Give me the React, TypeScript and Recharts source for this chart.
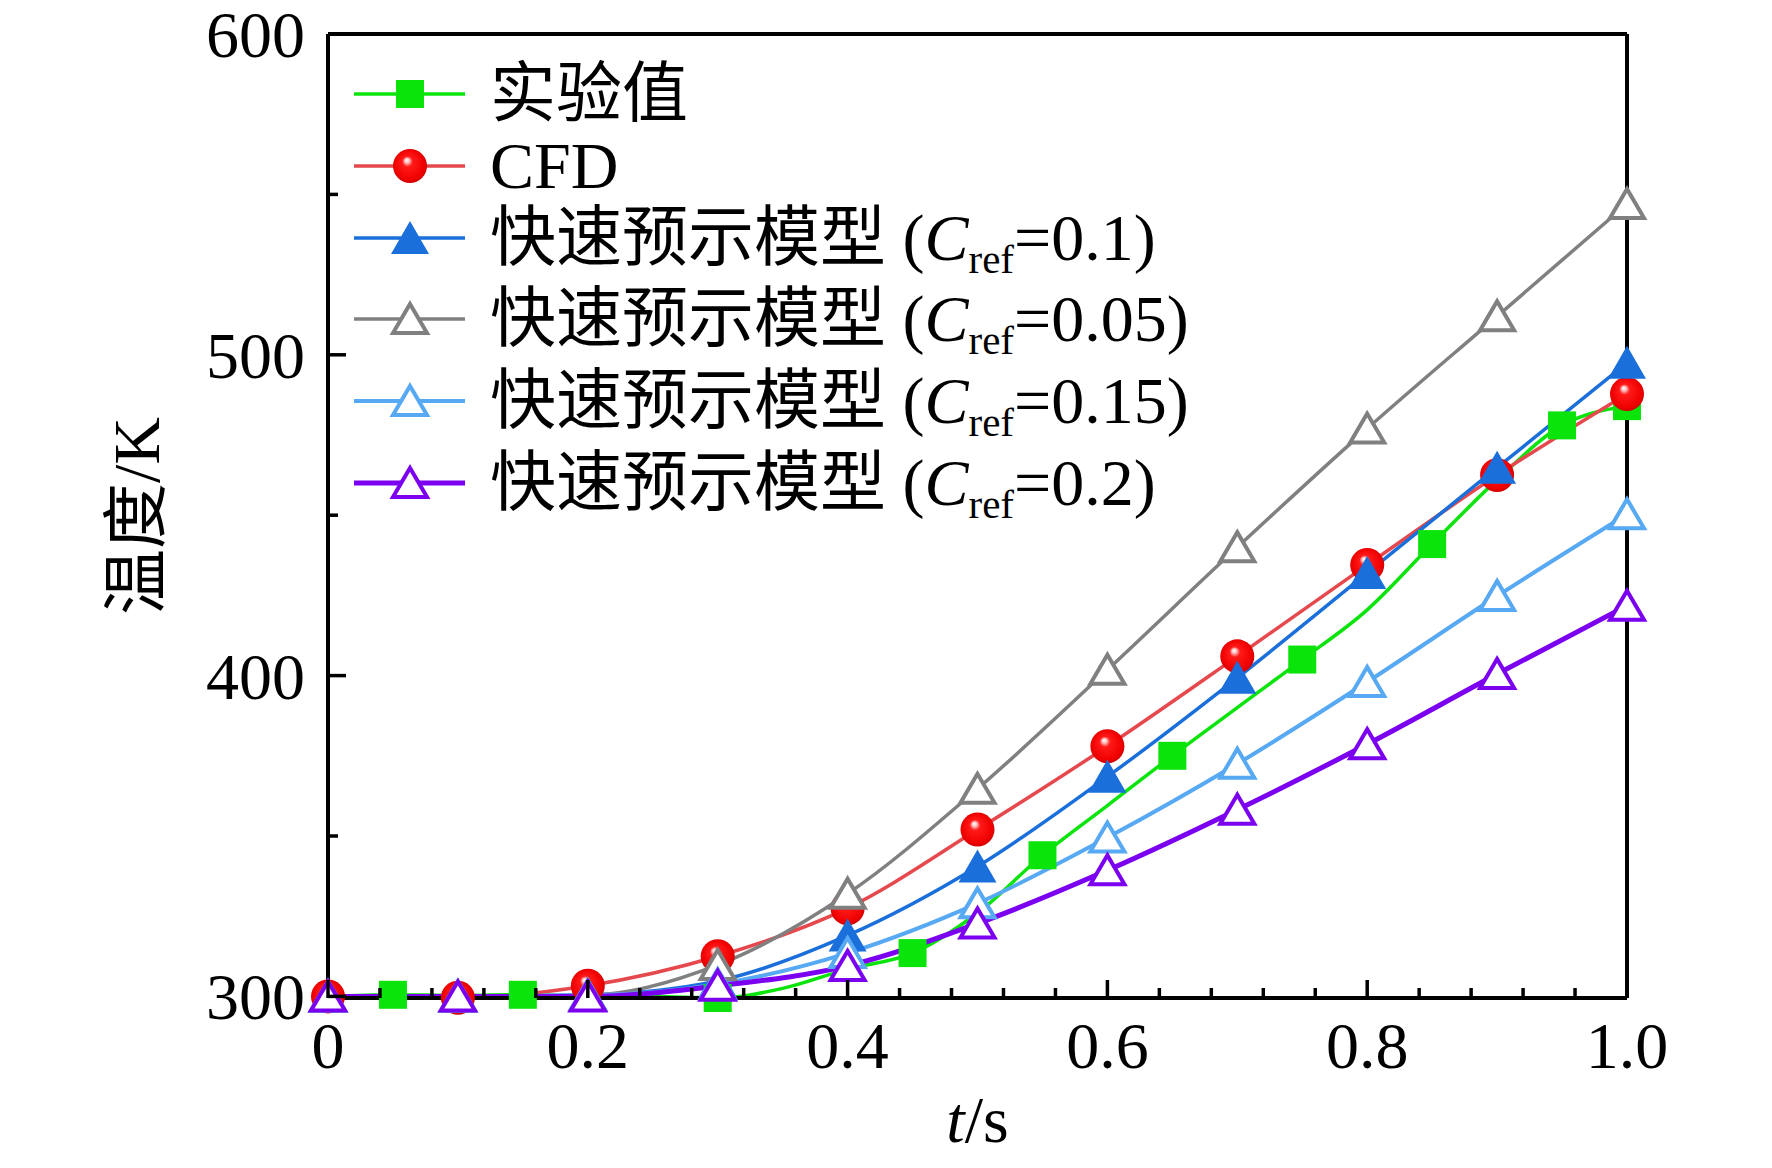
import { Legend, Line, LineChart, XAxis, YAxis } from "recharts";

// time axis (s) of the experiment record, 0.05 s steps
const TIME_STEPS = [
  0, 0.05, 0.1, 0.15, 0.2, 0.25, 0.3, 0.35, 0.4, 0.45, 0.5, 0.55, 0.6, 0.65,
  0.7, 0.75, 0.8, 0.85, 0.9, 0.95, 1.0,
];
const EXP_LINE = [
  300, 300.5, 300.3, 300.5, 300, 300, 299.5, 302.5, 308.5, 313.5, 326, 344,
  359.5, 375, 390, 405, 420.5, 441, 461, 478, 484,
];
// times where the experiment curve carries a square marker
const EXP_MARKER_TIMES = [0.05, 0.15, 0.3, 0.45, 0.55, 0.65, 0.75, 0.85, 0.95, 1.0];

// model outputs every 0.1 s
const MODEL_TIMES = [0, 0.1, 0.2, 0.3, 0.4, 0.5, 0.6, 0.7, 0.8, 0.9, 1.0];
const CFD = [300, 299.6, 303.3, 312.5, 327.5, 352, 378, 406, 434.5, 462.5, 487.8];
const CREF_01 = [300, 300, 300.5, 304.8, 319, 340.5, 368.5, 399.3, 432, 464.8, 497.5];
const CREF_005 = [300, 300, 300.3, 309.8, 332, 364.7, 401.8, 440, 477, 512, 547];
const CREF_015 = [300, 300, 300.3, 303.8, 313.5, 329, 349.5, 372.5, 398, 424.8, 450.3];
const CREF_02 = [300, 300, 300, 303.3, 309.5, 322.7, 339.3, 358.2, 378.6, 400.5, 421.8];

const X_MAJOR = [0, 0.2, 0.4, 0.6, 0.8, 1.0];
const X_LABELS = ["0", "0.2", "0.4", "0.6", "0.8", "1.0"];
const X_MINOR = [
  0.04, 0.08, 0.12, 0.16, 0.24, 0.28, 0.32, 0.36, 0.44, 0.48, 0.52, 0.56, 0.64,
  0.68, 0.72, 0.76, 0.84, 0.88, 0.92, 0.96,
];
const Y_MAJOR = [300, 400, 500, 600];
const Y_MINOR = [350, 450, 550];

const FONT = '"Liberation Serif", "Noto Sans CJK SC", serif';

type Shape = "square" | "sphere" | "triFill" | "triOpen";

const SERIES: {
  key: string;
  name: string;
  cref?: string;
  color: string;
  lineColor: string;
  width: number;
  shape: Shape;
}[] = [
  { key: "exp", name: "实验值", color: "#0be40b", lineColor: "#0be40b", width: 3.5, shape: "square" },
  { key: "cfd", name: "CFD", color: "#ff0000", lineColor: "#e5484d", width: 3.5, shape: "sphere" },
  { key: "c01", name: "快速预示模型", cref: "0.1", color: "#1a6fdb", lineColor: "#1a6fdb", width: 3.5, shape: "triFill" },
  { key: "c005", name: "快速预示模型", cref: "0.05", color: "#808080", lineColor: "#808080", width: 3.5, shape: "triOpen" },
  { key: "c015", name: "快速预示模型", cref: "0.15", color: "#56a9f2", lineColor: "#56a9f2", width: 4, shape: "triOpen" },
  { key: "c02", name: "快速预示模型", cref: "0.2", color: "#7b00f0", lineColor: "#7b00f0", width: 5, shape: "triOpen" },
];

const data = TIME_STEPS.map((t, i) => {
  const k = MODEL_TIMES.indexOf(t);
  const pick = (arr: number[]) => (k >= 0 ? arr[k] : undefined);
  return {
    t,
    exp: EXP_LINE[i],
    cfd: pick(CFD),
    c01: pick(CREF_01),
    c005: pick(CREF_005),
    c015: pick(CREF_015),
    c02: pick(CREF_02),
  };
});

const Marker = ({ shape, color, cx, cy, gid }: { shape: Shape; color: string; cx: number; cy: number; gid: string }) => {
  if (shape === "square") {
    return <rect x={cx - 14} y={cy - 14} width={28} height={28} fill={color} />;
  }
  if (shape === "sphere") {
    return <circle cx={cx} cy={cy} r={17} fill={`url(#${gid})`} />;
  }
  if (shape === "triFill") {
    return (
      <polygon
        points={`${cx},${cy - 17} ${cx - 19},${cy + 16} ${cx + 19},${cy + 16}`}
        fill={color}
      />
    );
  }
  return (
    <polygon
      points={`${cx},${cy - 15} ${cx - 17},${cy + 14} ${cx + 17},${cy + 14}`}
      fill="#fff"
      stroke={color}
      strokeWidth={4}
      strokeLinejoin="miter"
    />
  );
};

const SphereGradient = ({ id }: { id: string }) => (
  <radialGradient id={id} cx="50%" cy="50%" r="55%" fx="40%" fy="32%">
    <stop offset="0%" stopColor="#ffffff" />
    <stop offset="12%" stopColor="#ffc4c4" />
    <stop offset="28%" stopColor="#ff1a1a" />
    <stop offset="80%" stopColor="#f00000" />
    <stop offset="100%" stopColor="#c00000" />
  </radialGradient>
);

const makeDot = (s: (typeof SERIES)[number]) => (props: any) => {
  const { cx, cy, index, payload } = props;
  const k = `${s.key}-${index}`;
  if (cx == null || cy == null || payload[s.key] == null) return <g key={k} />;
  if (s.key === "exp" && !EXP_MARKER_TIMES.includes(payload.t)) return <g key={k} />;
  return (
    <g key={k}>
      <Marker shape={s.shape} color={s.color} cx={cx} cy={cy} gid="sphere-plot" />
    </g>
  );
};

const XTick = (props: any) => {
  const { x, y, payload } = props;
  const mi = X_MAJOR.indexOf(payload.value);
  const major = mi >= 0;
  return (
    <g>
      <line x1={x} x2={x} y1={y} y2={y - (major ? 18 : 10)} stroke="#000" strokeWidth={3.5} />
      {major && (
        <text x={x} y={y + 70} textAnchor="middle" fontSize={66} fontFamily={FONT} fill="#000">
          {X_LABELS[mi]}
        </text>
      )}
    </g>
  );
};

const YTick = (props: any) => {
  const { x, y, payload } = props;
  const major = Y_MAJOR.includes(payload.value);
  return (
    <g>
      <line x1={x} x2={x + (major ? 18 : 10)} y1={y} y2={y} stroke="#000" strokeWidth={3.5} />
      {major && (
        <text x={x - 23} y={y + 23} textAnchor="end" fontSize={66} fontFamily={FONT} fill="#000">
          {payload.value}
        </text>
      )}
    </g>
  );
};

// legend row centres, relative to the chart wrapper
const LEGEND_ROW_Y = [86, 158, 230, 311, 393, 475];

const LegendBox = () => (
  <div style={{ position: "relative", width: 800, height: 540, fontFamily: FONT }}>
    {SERIES.map((s, i) => (
      <div
        key={s.key}
        style={{
          position: "absolute",
          left: 0,
          top: LEGEND_ROW_Y[i] - 40,
          height: 80,
          display: "flex",
          alignItems: "center",
          whiteSpace: "nowrap",
        }}
      >
        <svg width={111} height={44} style={{ display: "block" }}>
          <defs>
            <SphereGradient id={`sphere-legend-${i}`} />
          </defs>
          <line x1={0} x2={111} y1={22} y2={22} stroke={s.lineColor} strokeWidth={s.width} />
          <Marker shape={s.shape} color={s.color} cx={56} cy={22} gid={`sphere-legend-${i}`} />
        </svg>
        <span style={{ marginLeft: 25, fontSize: 66, lineHeight: 1, color: "#000" }}>
          {s.name}
          {s.cref && (
            <>
              {" ("}
              <span style={{ fontStyle: "italic" }}>C</span>
              <span style={{ fontSize: 41, position: "relative", top: 13 }}>ref</span>
              {`=${s.cref})`}
            </>
          )}
        </span>
      </div>
    ))}
  </div>
);

const App = () => {
  return (
    <LineChart
      width={1756}
      height={1150}
      data={data}
      margin={{ top: 25, right: 136, bottom: 40, left: 0 }}
    >
      <defs>
        <SphereGradient id="sphere-plot" />
      </defs>
      <XAxis
        dataKey="t"
        type="number"
        domain={[0, 1]}
        ticks={[...X_MAJOR, ...X_MINOR].sort((a, b) => a - b)}
        interval={0}
        tick={XTick}
        tickLine={false}
        tickSize={0}
        tickMargin={0}
        height={120}
        axisLine={{ stroke: "#000", strokeWidth: 4 }}
        label={{
          content: () => (
            <text x={969.5} y={1134} textAnchor="middle" fontSize={66} fontFamily={FONT} fill="#000">
              <tspan fontStyle="italic">t</tspan>
              <tspan>/s</tspan>
            </text>
          ),
        }}
      />
      <XAxis
        xAxisId="top"
        orientation="top"
        type="number"
        domain={[0, 1]}
        tick={false}
        tickLine={false}
        height={1}
        axisLine={{ stroke: "#000", strokeWidth: 4 }}
      />
      <YAxis
        type="number"
        domain={[300, 600]}
        ticks={[...Y_MAJOR, ...Y_MINOR].sort((a, b) => a - b)}
        interval={0}
        tick={YTick}
        tickLine={false}
        tickSize={0}
        tickMargin={0}
        width={320}
        axisLine={{ stroke: "#000", strokeWidth: 4 }}
        label={{
          content: () => (
            <text
              x={128}
              y={508}
              transform="rotate(-90 128 508)"
              textAnchor="middle"
              dominantBaseline="central"
              fontSize={66}
              fontFamily={FONT}
              fill="#000"
            >
              温度/K
            </text>
          ),
        }}
      />
      <YAxis
        yAxisId="right"
        orientation="right"
        type="number"
        domain={[300, 600]}
        tick={false}
        tickLine={false}
        width={1}
        axisLine={{ stroke: "#000", strokeWidth: 4 }}
      />
      {SERIES.map((s) => (
        <Line
          key={s.key}
          dataKey={s.key}
          name={s.name}
          type="monotone"
          stroke={s.lineColor}
          strokeWidth={s.width}
          connectNulls
          dot={makeDot(s)}
          activeDot={false}
          isAnimationActive={false}
        />
      ))}
      <Legend
        layout="vertical"
        align="center"
        verticalAlign="middle"
        wrapperStyle={{ left: 346, top: 0, width: 800, height: 540 }}
        content={() => <LegendBox />}
      />
    </LineChart>
  );
};

export default App;
